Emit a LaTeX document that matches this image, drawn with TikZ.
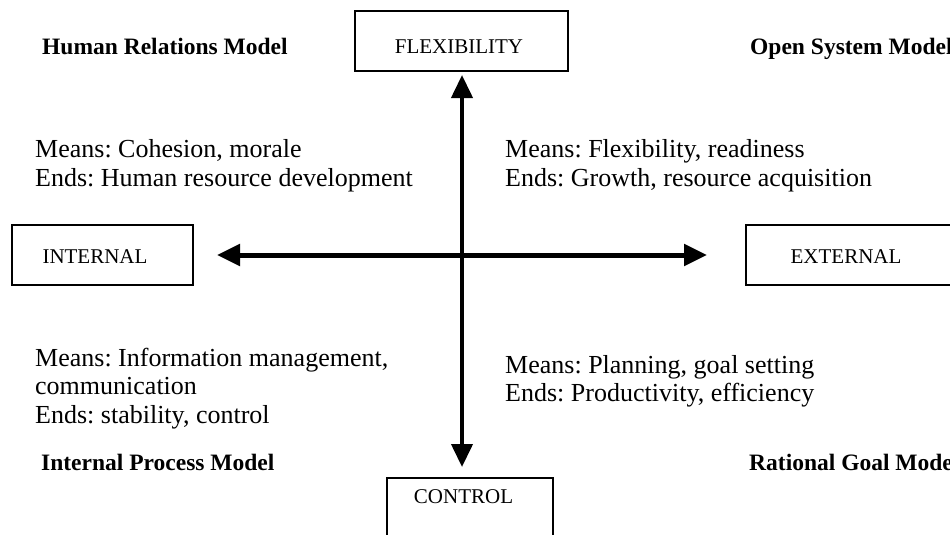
\documentclass[tikz,border=0pt]{standalone}
\usepackage{fontspec}
\setmainfont{Liberation Serif}
\usetikzlibrary{arrows.meta}
\frenchspacing
\tikzset{
  boxst/.style={draw=black, line width=1.5pt, fill=white, inner sep=0pt},
  capst/.style={inner sep=0pt, anchor=base, font=\fontsize{21}{24}\selectfont},
  bodyst/.style={inner sep=0pt, anchor=base west, font=\fontsize{26}{29}\selectfont},
  headst/.style={inner sep=0pt, anchor=base west, font=\fontsize{23.5}{27}\selectfont\bfseries},
  dblarrow/.style={line width=#1, {Triangle[length=23pt,width=21pt]}-{Triangle[length=23pt,width=21pt]}}
}
\begin{document}
\begin{tikzpicture}[x=1pt,y=-1pt]
\useasboundingbox (0,0) rectangle (950,535);
\clip (0,0) rectangle (950,535);
\fill[white] (0,0) rectangle (950,535);

% boxes
\node[boxst, minimum width=213pt, minimum height=60pt] (flex) at (461.5,41) {};
\node[capst] (flext) at (459,53) {FLEXIBILITY};
\node[boxst, minimum width=181pt, minimum height=60pt] (int) at (102.5,255) {};
\node[capst] (intt) at (95,263) {INTERNAL};
\node[boxst, minimum width=240pt, minimum height=60pt] (ext) at (866,255) {};
\node[capst] (extt) at (846,263) {EXTERNAL};
\node[boxst, minimum width=166pt, minimum height=100pt] (ctrl) at (470,528) {};
\node[capst] (ctrlt) at (463.5,503) {CONTROL};

% arrow end points
\coordinate (vt) at (462,75);
\coordinate (vb) at (462,467);
\coordinate (hl) at (217,255);
\coordinate (hr) at (707,255);

% axes
\draw[dblarrow=5pt] (hl) -- (hr);
\draw[dblarrow=4pt] (vt) -- (vb);

% headings
\node[headst] (hrm) at (42,55) {Human Relations Model};
\node[headst] (osm) at (750,55) {Open System Model};
\node[headst] (ipm) at (41,470) {Internal Process Model};
\node[headst] (rgm) at (749,470) {Rational Goal Model};

% quadrant texts
\node[bodyst] (ul1) at (35,157) {Means: Cohesion, morale};
\node[bodyst] (ul2) at (35,186) {Ends: Human resource development};
\node[bodyst] (ur1) at (505,157) {Means: Flexibility, readiness};
\node[bodyst] (ur2) at (505,186) {Ends: Growth, resource acquisition};
\node[bodyst] (ll1) at (35,366) {Means: Information management,};
\node[bodyst] (ll2) at (35,394.5) {communication};
\node[bodyst] (ll3) at (35,423) {Ends: stability, control};
\node[bodyst] (lr1) at (505,373) {Means: Planning, goal setting};
\node[bodyst] (lr2) at (505,401.5) {Ends: Productivity, efficiency};
\end{tikzpicture}
\end{document}
